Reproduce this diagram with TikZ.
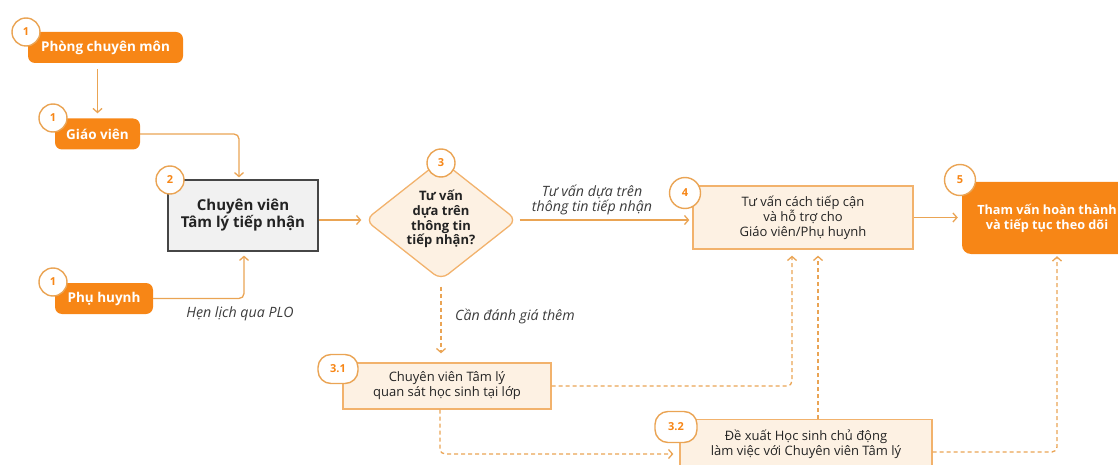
\documentclass[tikz,border=0pt]{standalone}
\usepackage{fontspec}
\setmainfont{Open Sans}
\usetikzlibrary{arrows.meta,shapes.geometric,calc}
\definecolor{orF}{RGB}{247,134,22}
\definecolor{lnC}{RGB}{234,164,84}
\definecolor{crF}{RGB}{253,241,227}
\definecolor{crD}{RGB}{242,178,108}
\definecolor{gyF}{RGB}{241,241,241}
\definecolor{gyD}{RGB}{70,70,70}
\definecolor{txC}{RGB}{35,35,35}
\definecolor{lbC}{RGB}{60,60,60}
\begin{document}
\begin{tikzpicture}[x=1pt,y=-1pt,
  srcbox/.style={fill=orF, rounded corners=7pt, text=white, font=\bfseries\fontsize{13.5}{15}\selectfont, inner sep=0pt, minimum height=31pt},
  badge/.style={circle, draw=lnC, line width=1.4pt, fill=white, text=orF, font=\bfseries\fontsize{11}{12}\selectfont, minimum size=28pt, inner sep=0pt},
  pill/.style={rectangle, rounded corners=13pt, draw=lnC, line width=1.4pt, fill=white, text=orF, font=\bfseries\fontsize{11}{12}\selectfont, minimum width=40pt, minimum height=29pt, inner sep=0pt},
  crbox/.style={draw=crD, line width=1.3pt, fill=crF, text=txC, align=center, font=\fontsize{13}{15}\selectfont, inner sep=0pt},
  flow/.style={draw=lnC, line width=1.3pt, -{Straight Barb[length=4pt,width=9pt]}, rounded corners=5pt},
  dflow/.style={flow, dash pattern=on 4pt off 3pt},
  lbl/.style={font=\itshape\fontsize{14.2}{15}\selectfont, text=lbC, align=center, inner sep=0pt}]
\useasboundingbox (0,0) rectangle (1118,465);
\clip (0,0) rectangle (1118,465);

% source boxes
\node[srcbox, minimum width=155pt] (pcm) at (105.5,47.5) {Phòng chuyên môn};
\node[srcbox, minimum width=85pt] (gv) at (97.5,134) {Giáo viên};
\node[srcbox, minimum width=98pt] (ph) at (104,298.5) {Phụ huynh};

% step 2
\node[draw=gyD, line width=1.2pt, fill=gyF, minimum width=150pt, minimum height=71pt, align=center, text=txC, font=\bfseries\fontsize{15}{17}\selectfont, inner sep=0pt] (cv) at (243,215.5) {Chuyên viên\\Tâm lý tiếp nhận};

% step 3 diamond
\node[diamond, draw=crD, line width=1.3pt, fill=crF, rounded corners=9pt, minimum width=152pt, minimum height=120pt, inner sep=0pt] (d) at (441,220) {};
\node[align=center, text=txC, font=\bfseries\fontsize{13}{14.7}\selectfont, inner sep=0pt] (dt) at (441,219) {Tư vấn\\dựa trên\\thông tin\\tiếp nhận?};

% step 4
\node[crbox, minimum width=220pt, minimum height=63pt] (b4) at (803,217.5) {Tư vấn cách tiếp cận\\và hỗ trợ cho\\Giáo viên/Phụ huynh};

% step 5
\node[fill=orF, rounded corners=9pt, minimum width=180pt, minimum height=72pt, inner sep=0pt] (b5) at (1052,218) {};
\node[align=center, text=white, font=\bfseries\fontsize{12.7}{15}\selectfont, inner sep=0pt] (b5t) at (1047,218.5) {Tham vấn hoàn thành\\và tiếp tục theo dõi};

% step 3.1
\node[crbox, minimum width=208pt, minimum height=46pt] (b31) at (447,386) {Chuyên viên Tâm lý\\quan sát học sinh tại lớp};

% step 3.2
\node[crbox, minimum width=252pt, minimum height=52pt, anchor=north] (b32) at (806,419) {};
\node[align=center, text=txC, font=\fontsize{13}{15.5}\selectfont, inner sep=0pt] (b32t) at (806,444) {Đề xuất Học sinh chủ động\\làm việc với Chuyên viên Tâm lý};

% connectors
\draw[flow, shorten <=6pt, shorten >=5pt] (pcm.south -| gv) -- (gv.north);
\draw[flow, shorten >=2pt] (gv.east) -| ([xshift=-4pt]cv.north);
\draw[flow, shorten >=4pt] (ph.east) -| ([xshift=1pt]cv.south);
\node[lbl] (plo) at (240,314) {Hẹn lịch qua PLO};
\draw[flow, shorten >=3pt] (cv.east |- d.west) -- (d.west);
\draw[flow, shorten <=2pt, shorten >=3pt] (d.east) -- (b4.west |- d.east);
\node[lbl] (l1) at (592,199.5) {Tư vấn dựa trên\\thông tin tiếp nhận};
\draw[flow, shorten >=4pt] (b4.east) -- (b5.west |- b4.east);

\draw[dflow, shorten <=6pt, shorten >=9pt] (d.south) -- (b31.north -| d.south);
\node[lbl, anchor=west] (l2) at (455,316) {Cần đánh giá thêm};
\draw[dflow, shorten >=6pt] (b31.east) -| ($(b4.south)+(-11,0)$);
\draw[dflow, shorten >=6pt] ($(b31.south)+(-7,0)$) |- ($(b32.north west)+(0,35)$);
\draw[dflow, shorten >=6pt] ($(b32.north)+(12,0)$) -- ($(b4.south)+(15,0)$);
\draw[dflow, shorten >=2pt] ($(b32.north east)+(0,33)$) -| ($(b5.south)+(5,0)$);

% badges
\node[badge] (n1a) at (26,32) {1};
\node[badge] (n1b) at (53,118) {1};
\node[badge] (n1c) at (53,282) {1};
\node[badge] (n2) at (170,180) {2};
\node[badge] (n3) at (441,163) {3};
\node[badge, minimum size=31pt] (n4) at (685,193) {4};
\node[badge, minimum size=31pt] (n5) at (960,180) {5};
\node[pill] (n31) at (338,369) {3.1};
\node[pill, minimum width=42pt, minimum height=31pt] (n32) at (676,427) {3.2};
\end{tikzpicture}
\end{document}
